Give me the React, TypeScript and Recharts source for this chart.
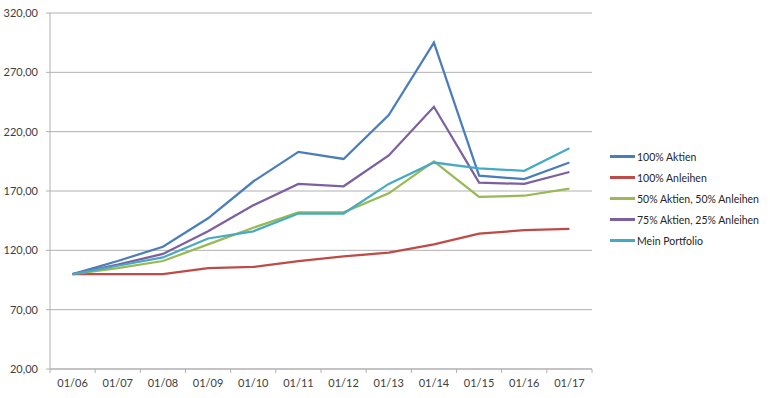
import React from "react";
import {
  LineChart,
  Line,
  XAxis,
  YAxis,
  CartesianGrid,
} from "recharts";

const months = ["01/06", "01/07", "01/08", "01/09", "01/10", "01/11", "01/12", "01/13", "01/14", "01/15", "01/16", "01/17"];

const aktien100 = [100, 111, 123, 147, 178, 203, 197, 234, 295, 183, 180, 194];
const anleihen100 = [100, 100, 100, 105, 106, 111, 115, 118, 125, 134, 137, 138];
const mix5050 = [100, 105, 111, 125, 139, 152, 152, 168, 195, 165, 166, 172];
const mix7525 = [100, 108, 117, 136, 158, 176, 174, 200, 241, 177, 176, 186];
const meinPortfolio = [100, 107, 114, 130, 136, 151, 151, 176, 194, 189, 187, 206];

const yTicks = [20, 70, 120, 170, 220, 270, 320];

const series = [
  { key: "a100", name: "100% Aktien", color: "#4a7ebb", values: aktien100 },
  { key: "b100", name: "100% Anleihen", color: "#be4b48", values: anleihen100 },
  { key: "m50", name: "50% Aktien, 50% Anleihen", color: "#98b954", values: mix5050 },
  { key: "m75", name: "75% Aktien, 25% Anleihen", color: "#7d60a0", values: mix7525 },
  { key: "mein", name: "Mein Portfolio", color: "#46aac5", values: meinPortfolio },
];

const data = months.map((m, i) => {
  const row: Record<string, string | number> = { month: m };
  series.forEach((s) => {
    row[s.key] = s.values[i];
  });
  return row;
});

const FONT = "Lato, 'Open Sans', sans-serif";
const W = 770;
const H = 398;
const PLOT_LEFT = 50;
const PLOT_RIGHT = 592;
const HALF_BAND = (PLOT_RIGHT - PLOT_LEFT) / months.length / 2;
const GRID = "#b0b0b0";

const fmt = (v: number) => v.toFixed(2).replace(".", ",");

function MonthTick(props: any) {
  const { x, y, payload, index } = props;
  const last = index === months.length - 1;
  return (
    <g>
      <line x1={x - HALF_BAND} y1={y} x2={x - HALF_BAND} y2={y + 4} stroke={GRID} />
      {last && <line x1={x + HALF_BAND} y1={y} x2={x + HALF_BAND} y2={y + 4} stroke={GRID} />}
      <text x={x} y={y + 18} textAnchor="middle" fontSize={11} fill="#404040" fontFamily={FONT}>
        {payload.value}
      </text>
    </g>
  );
}

function LegendBox() {
  return (
    <div
      style={{
        position: "absolute",
        left: 610,
        top: 146,
        fontFamily: FONT,
        fontSize: 10.5,
        color: "#262626",
        whiteSpace: "nowrap",
      }}
    >
      {series.map((s) => (
        <div key={s.key} style={{ display: "flex", alignItems: "center", height: 21 }}>
          <span style={{ display: "inline-block", width: 25, height: 2.5, background: s.color, marginRight: 2 }} />
          <span>{s.name}</span>
        </div>
      ))}
    </div>
  );
}

export default function App() {
  return (
    <div style={{ position: "absolute", left: 0, top: 0, width: W, height: H, background: "#fff" }}>
      <LineChart
        width={W}
        height={H}
        data={data}
        margin={{ top: 13, right: W - PLOT_RIGHT, bottom: 0, left: 0 }}
      >
        <CartesianGrid vertical={false} stroke={GRID} />
        <XAxis
          dataKey="month"
          height={29}
          padding={{ left: HALF_BAND, right: HALF_BAND }}
          tickSize={0}
          tickMargin={0}
          tickLine={false}
          axisLine={{ stroke: GRID }}
          tick={<MonthTick />}
          interval={0}
        />
        <YAxis
          width={PLOT_LEFT}
          domain={[20, 320]}
          ticks={yTicks}
          tickFormatter={fmt}
          tickSize={4}
          tickMargin={8}
          tickLine={{ stroke: GRID }}
          axisLine={{ stroke: GRID }}
          tick={{ fontSize: 11, fill: "#404040", fontFamily: FONT }}
          interval={0}
        />
        {series.map((s) => (
          <Line
            key={s.key}
            dataKey={s.key}
            name={s.name}
            type="linear"
            stroke={s.color}
            strokeWidth={2.25}
            dot={false}
            activeDot={false}
            isAnimationActive={false}
          />
        ))}
      </LineChart>
      <LegendBox />
    </div>
  );
}
